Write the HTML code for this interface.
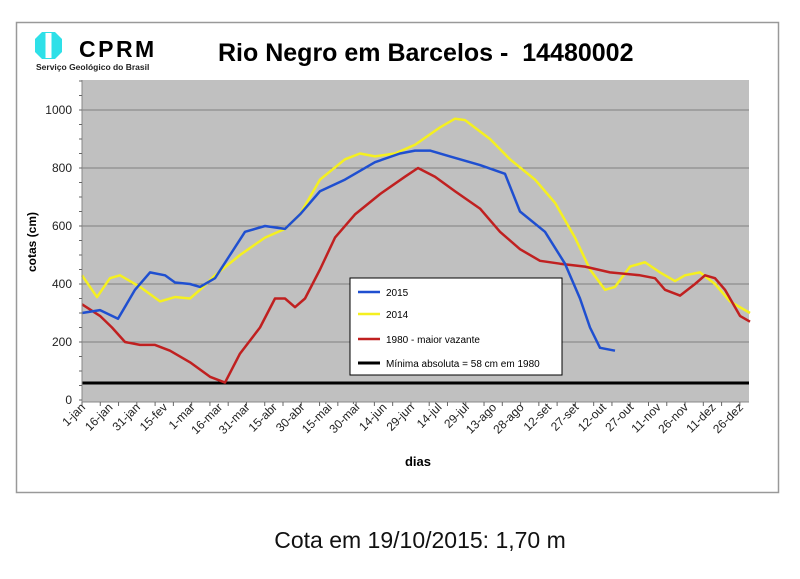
<!DOCTYPE html>
<html><head><meta charset="utf-8"><style>
body{margin:0;background:#fff;width:800px;height:574px;overflow:hidden;font-family:"Liberation Sans",Arial,sans-serif}
</style></head><body>
<svg id="s" width="800" height="574" xmlns="http://www.w3.org/2000/svg" font-family="Liberation Sans, Arial, sans-serif">
<rect x="16.5" y="22.5" width="762" height="470" fill="#fff" stroke="#999" stroke-width="1.5"/>
<polygon points="42,32 55,32 62,39 62,52 55,59 42,59 35,52 35,39" fill="#2ee0e8"/>
<rect x="45.5" y="33" width="6" height="25" fill="#fff"/>
<text x="79" y="57" font-size="23" font-weight="bold" letter-spacing="2.5">CPRM</text>
<text x="36" y="70" font-size="8.5" font-weight="bold" fill="#222">Serviço Geológico do Brasil</text>
<text x="218" y="61" font-size="25" font-weight="bold">Rio Negro em Barcelos -&#160; 14480002</text>
<rect x="82" y="80" width="667" height="322" fill="#c0c0c0"/>
<g id="grid" stroke="#808080" stroke-width="1"></g>
<line x1="82" y1="383" x2="749" y2="383" stroke="#000" stroke-width="3"/>
<g id="series" fill="none" stroke-width="2.5" stroke-linejoin="round"></g>
<line x1="82" y1="80" x2="82" y2="402" stroke="#888"/>
<line x1="82" y1="402" x2="749" y2="402" stroke="#888"/>
<g id="ax" font-size="12" fill="#222"></g>
<text transform="translate(36,242) rotate(-90)" font-size="12" font-weight="bold" text-anchor="middle">cotas (cm)</text>
<text x="418" y="466" font-size="13" font-weight="bold" text-anchor="middle">dias</text>
<rect x="350" y="278" width="212" height="97" fill="#fff" stroke="#000"/>
<line x1="358" y1="292" x2="380" y2="292" stroke="#1f4fd0" stroke-width="2.5"/><text x="386" y="296" font-size="10">2015</text>
<line x1="358" y1="314" x2="380" y2="314" stroke="#f5f020" stroke-width="2.5"/><text x="386" y="318" font-size="10">2014</text>
<line x1="358" y1="339" x2="380" y2="339" stroke="#c02020" stroke-width="2.5"/><text x="386" y="343" font-size="10">1980 - maior vazante</text>
<line x1="358" y1="363" x2="380" y2="363" stroke="#000" stroke-width="3"/><text x="386" y="367" font-size="10">Mínima absoluta = 58 cm em 1980</text>
<text x="420" y="548" font-size="23" text-anchor="middle" fill="#111">Cota em 19/10/2015: 1,70 m</text>
</svg>
<script>
const NS="http://www.w3.org/2000/svg";
function el(p,t,a,txt){const e=document.createElementNS(NS,t);for(const k in a)e.setAttribute(k,a[k]);if(txt)e.textContent=txt;p.appendChild(e);return e;}
const g=document.getElementById('grid'),ax=document.getElementById('ax'),se=document.getElementById('series');
const Y=v=>400-v*0.29;
for(let v=200;v<=1000;v+=200)el(g,'line',{x1:82,x2:749,y1:Y(v),y2:Y(v)});
for(let v=0;v<=1000;v+=200)el(ax,'text',{x:72,y:Y(v)+4,'text-anchor':'end'},String(v));
for(let v=0;v<=1100;v+=50)el(ax,'line',{x1:79,x2:82,y1:Y(v),y2:Y(v),stroke:'#666'});
const labs=["1-jan","16-jan","31-jan","15-fev","1-mar","16-mar","31-mar","15-abr","30-abr","15-mai","30-mai","14-jun","29-jun","14-jul","29-jul","13-ago","28-ago","12-set","27-set","12-out","27-out","11-nov","26-nov","11-dez","26-dez"];
const dx=667/365;
for(let d=0;d<=365;d+=10)el(ax,'line',{x1:82+d*dx,x2:82+d*dx,y1:402,y2:406,stroke:'#666'});
labs.forEach((l,i)=>{const x=82+i*15*dx+4,y=408;el(ax,'text',{x:x,y:y,'text-anchor':'end',transform:`rotate(-45 ${x} ${y})`},l);});
function line(pts,c){el(se,'polyline',{points:pts.map(p=>p[0]+','+Y(p[1])).join(' '),stroke:c});}
line([[82,430],[97,355],[110,420],[120,430],[140,390],[160,340],[175,355],[190,350],[200,380],[215,430],[240,500],[265,560],[285,590],[300,640],[320,760],[345,830],[360,850],[375,840],[395,850],[415,880],[440,940],[455,970],[465,965],[490,900],[510,830],[535,760],[555,680],[575,560],[590,450],[605,380],[615,390],[630,460],[645,475],[660,440],[675,410],[685,430],[700,440],[715,400],[730,340],[750,300]],'#f5f020');
line([[82,330],[100,290],[112,250],[125,200],[140,190],[155,190],[170,170],[190,130],[210,80],[225,60],[240,160],[260,250],[275,350],[285,350],[295,320],[305,350],[320,450],[335,560],[355,640],[380,710],[405,770],[418,800],[435,770],[455,720],[480,660],[500,580],[520,520],[540,480],[560,470],[585,460],[610,440],[640,430],[655,420],[665,380],[680,360],[695,400],[705,430],[715,420],[725,380],[740,290],[750,270]],'#c02020');
line([[82,300],[100,310],[118,280],[135,380],[150,440],[165,430],[175,405],[190,400],[200,390],[215,420],[230,500],[245,580],[265,600],[285,590],[300,640],[320,720],[345,760],[375,820],[400,850],[415,860],[430,860],[450,840],[480,810],[505,780],[520,650],[545,580],[565,470],[580,350],[590,250],[600,180],[615,170]],'#1f4fd0');
</script>
</body></html>
